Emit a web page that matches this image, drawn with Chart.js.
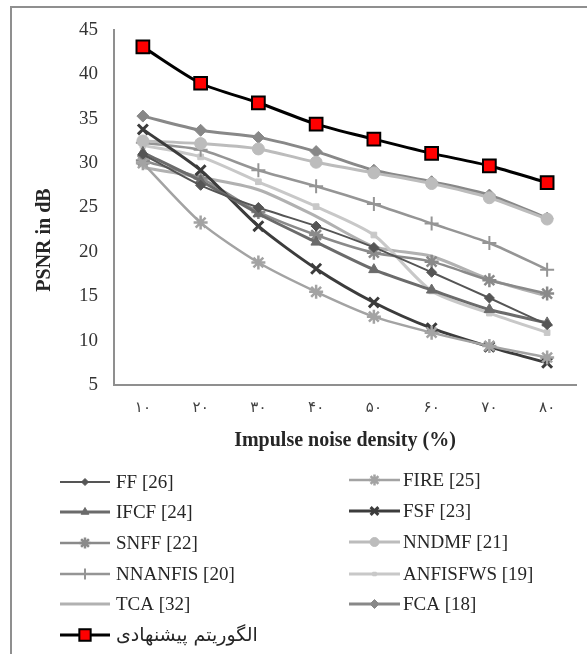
<!DOCTYPE html>
<html>
<head>
<meta charset="utf-8">
<script src="https://cdn.jsdelivr.net/npm/chart.js@4/dist/chart.umd.min.js"></script>
<style>
  html, body { margin: 0; padding: 0; background: #fff; }
  #wrap { position: relative; width: 587px; height: 654px; }
</style>
</head>
<body>
<div id="wrap"><canvas id="c" width="587" height="654"></canvas></div>
<script>
// ---- data ----
const categories = ['۱۰', '۲۰', '۳۰', '۴۰', '۵۰', '۶۰', '۷۰', '۸۰'];
const yTicks = [5, 10, 15, 20, 25, 30, 35, 40, 45];

const FF       = [31.0, 27.5, 25.0, 22.9, 20.5, 17.7, 14.8, 11.8];
const FIRE     = [30.0, 23.3, 18.8, 15.5, 12.7, 10.9, 9.4, 8.1];
const IFCF     = [31.2, 28.0, 24.3, 21.1, 18.0, 15.7, 13.5, 12.0];
const FSF      = [33.8, 29.2, 22.9, 18.1, 14.3, 11.4, 9.3, 7.5];
const SNFF     = [30.3, 28.3, 24.5, 21.9, 19.9, 18.9, 16.8, 15.3];
const NNDMF    = [32.5, 32.2, 31.6, 30.1, 28.9, 27.7, 26.1, 23.7];
const NNANFIS  = [32.3, 31.5, 29.2, 27.4, 25.4, 23.2, 21.0, 18.0];
const ANFISFWS = [32.0, 30.7, 27.9, 25.1, 21.9, 15.6, 13.1, 10.9];
const TCA      = [29.5, 28.4, 27.0, 24.0, 20.6, 19.5, 16.9, 15.0];
const FCA      = [35.3, 33.7, 32.9, 31.3, 29.2, 27.9, 26.4, 23.8];
const PROPOSED = [43.1, 39.0, 36.8, 34.4, 32.7, 31.1, 29.7, 27.8];

const seriesNames = ['FF [26]', 'FIRE [25]', 'IFCF [24]', 'FSF [23]', 'SNFF [22]', 'NNDMF [21]',
  'NNANFIS [20]', 'ANFISFWS [19]', 'TCA [32]', 'FCA [18]', 'الگوریتم پیشنهادی'];
const yTitle = 'PSNR in dB';
const xTitle = 'Impulse noise density (%)';

// ---- styles ----
function ds(label, data, color, width, style, radius, fill, pbw, extra) {
  return Object.assign({
    label, data,
    borderColor: color, borderWidth: width,
    pointStyle: style, pointRadius: radius, pointHoverRadius: radius,
    pointBackgroundColor: fill || color, pointBorderColor: color,
    pointBorderWidth: pbw || 1,
    tension: 0.25, fill: false
  }, extra || {});
}

const datasets = [
  ds(seriesNames[0], FF, '#555555', 2, 'rectRot', 5),
  ds(seriesNames[1], FIRE, '#a3a3a3', 2.5, 'star', 7, null, 2.5),
  ds(seriesNames[2], IFCF, '#6b6b6b', 3, 'triangle', 6),
  ds(seriesNames[3], FSF, '#3c3c3c', 3, 'crossRot', 7, null, 3),
  ds(seriesNames[4], SNFF, '#8a8a8a', 2.5, 'star', 7, null, 2.5),
  ds(seriesNames[5], NNDMF, '#bcbcbc', 3, 'circle', 6),
  ds(seriesNames[6], NNANFIS, '#959595', 2.5, 'cross', 7, null, 2),
  ds(seriesNames[7], ANFISFWS, '#c8c8c8', 3, 'rect', 4),
  ds(seriesNames[8], TCA, '#b1b1b1', 3, 'circle', 0),
  ds(seriesNames[9], FCA, '#888888', 3, 'rectRot', 6),
  ds(seriesNames[10], PROPOSED, '#000000', 3, 'rect', 9, '#ff0000', 2,
     { pointBorderColor: '#000000', order: -1 })
];

const serif = "'Liberation Serif', 'Times New Roman', serif";

const extras = {
  id: 'extras',
  beforeDraw(chart) {
    const ctx = chart.ctx;
    ctx.save();
    ctx.strokeStyle = '#8f8f8f';
    ctx.lineWidth = 2;
    ctx.beginPath();
    ctx.moveTo(11, 654);
    ctx.lineTo(11, 7);
    ctx.lineTo(587, 7);
    ctx.stroke();
    ctx.restore();
  },
  afterDraw(chart) {
    const ctx = chart.ctx;
    ctx.save();
    // y title
    ctx.translate(45, 240);
    ctx.rotate(-Math.PI / 2);
    ctx.font = "bold 20px " + serif;
    ctx.fillStyle = '#262626';
    ctx.textAlign = 'center';
    ctx.textBaseline = 'middle';
    ctx.fillText(yTitle, 0, 0);
    ctx.restore();

    // legend
    const cols = [{ x1: 60, x2: 110, tx: 116 }, { x1: 349, x2: 400, tx: 403 }];
    const rowsY = [[482, 512, 543, 574, 604, 635], [480, 511, 542, 574, 604]];
    const counters = [0, 0];
    chart.data.datasets.forEach((d, i) => {
      const c = i === 10 ? 0 : i % 2;
      const r = counters[c]++;
      const col = cols[c];
      const y = rowsY[c][r];
      ctx.save();
      ctx.strokeStyle = d.borderColor;
      ctx.lineWidth = d.borderWidth;
      ctx.beginPath();
      ctx.moveTo(col.x1, y);
      ctx.lineTo(col.x2, y);
      ctx.stroke();
      const rad = i === 10 ? 8 : Math.max(0, d.pointRadius - 1.5);
      if (rad > 0) {
        ctx.fillStyle = d.pointBackgroundColor;
        ctx.strokeStyle = d.pointBorderColor;
        ctx.lineWidth = d.pointBorderWidth;
        Chart.helpers.drawPoint(ctx, { pointStyle: d.pointStyle, radius: rad, rotation: 0, borderWidth: d.pointBorderWidth }, (col.x1 + col.x2) / 2, y);
      }
      ctx.fillStyle = '#262626';
      ctx.textBaseline = 'middle';
      ctx.textAlign = 'left';
      ctx.font = i === 10 ? "19px 'DejaVu Sans', sans-serif" : "19px " + serif;
      ctx.fillText(d.label, col.tx, y + 1);
      ctx.restore();
    });
  }
};

new Chart(document.getElementById('c'), {
  type: 'line',
  data: { labels: categories, datasets },
  plugins: [extras],
  options: {
    responsive: false,
    animation: false,
    devicePixelRatio: 1,
    layout: { padding: { left: 0, top: 30, right: 3.6, bottom: 201 } },
    plugins: { legend: { display: false }, tooltip: { enabled: false } },
    scales: {
      x: {
        offset: true,
        grid: { display: false, drawTicks: false },
        border: { color: '#8f8f8f', width: 2 },
        ticks: { color: '#404040', padding: 14, font: { family: "'DejaVu Sans', sans-serif", size: 15 } },
        title: { display: true, text: xTitle, color: '#262626', padding: 0,
                 font: { family: serif, size: 20, weight: 'bold' } },
        afterFit(s) { s.height = 68; }
      },
      y: {
        min: 5, max: 45,
        afterBuildTicks(s) { s.ticks = yTicks.map(v => ({ value: v })); },
        grid: { display: false, drawTicks: false },
        border: { color: '#8f8f8f', width: 2 },
        ticks: { color: '#333333', padding: 16, font: { family: serif, size: 19 } },
        afterFit(s) { s.width = 114; }
      }
    }
  }
});
</script>
</body>
</html>
